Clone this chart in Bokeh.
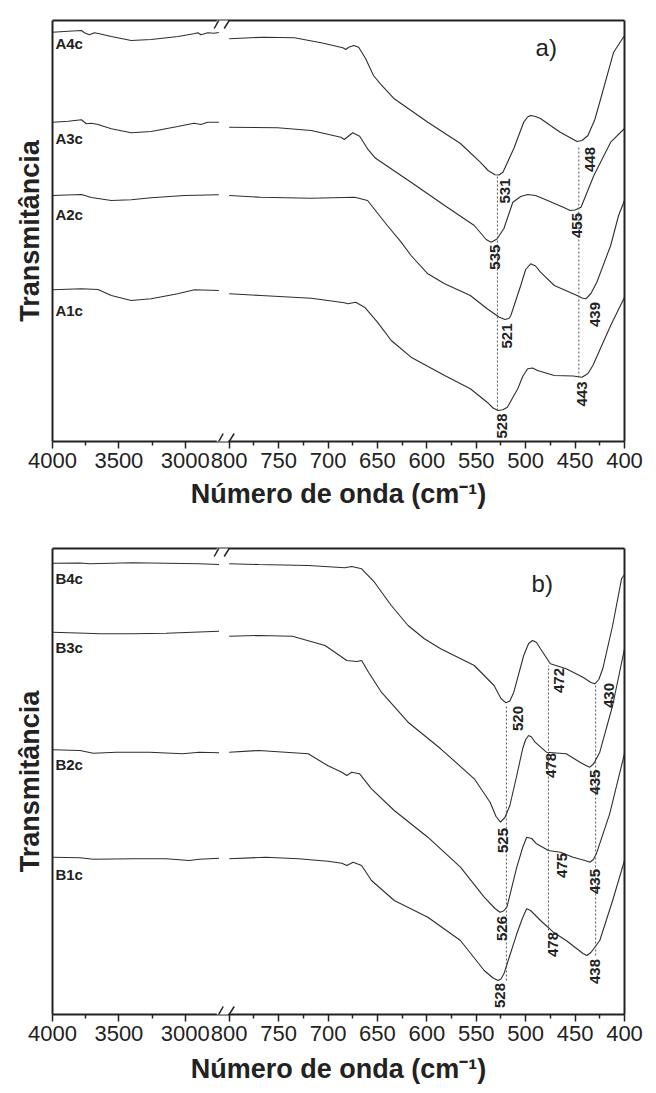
import numpy as np
from bokeh.plotting import figure
from bokeh.models import (Range1d, FixedTicker, LinearAxis, PolyAnnotation, Arrow,
                          ColumnDataSource)
from bokeh.layouts import column
from bokeh.embed import file_html
from bokeh.resources import INLINE
from bokeh.core.properties import value

FONT = "Liberation Sans"
INK = "#222222"
CURVE = "#2e2e2e"

# ---------------- axis ticks (wavenumber, cm-1) ----------------
major_wn = [4000, 3500, 3000, 800, 750, 700, 650, 600, 550, 500, 450, 400]
minor_wn = [3750, 3250, 775, 725, 675, 625, 575, 525, 475, 425]

# ---------------- panel a) data (transmittance, arbitrary units) ----------------
A4c_hi_wn = [4000, 3882, 3782, 3760, 3722, 3685, 3647, 3557, 3407, 3257, 3055, 2935, 2905, 2882, 2830, 2785, 2747]
A4c_hi_T = [409.3, 410.3, 411, 408.7, 406.7, 408.7, 407.7, 405, 401, 402, 405, 407.7, 408.7, 406.7, 408.7, 408.3, 409]
A4c_lo_wn = [800, 765, 734, 707, 685, 682, 679, 674, 669, 662, 654, 647, 633, 599, 566, 546, 538, 531, 527, 523, 512, 502, 498, 495, 490, 485, 475, 465, 448, 443, 437, 430, 424, 411, 400]
A4c_lo_T = [402.7, 404.3, 403.7, 398.7, 393.7, 392, 394.3, 396, 394.3, 383, 366, 357.7, 342.7, 319.3, 298, 279.3, 271, 266.7, 266.5, 269.3, 293, 319.3, 324.5, 326, 325, 323, 316, 309.3, 300, 301, 306, 322, 343, 389.3, 406]

A3c_hi_wn = [4000, 3882, 3782, 3745, 3707, 3657, 3557, 3407, 3257, 3057, 2935, 2882, 2832, 2747]
A3c_hi_T = [319.3, 320.3, 321.7, 317.7, 318.3, 317, 312.7, 308.7, 310, 315, 318.3, 317, 319.3, 319.3]
A3c_lo_wn = [800, 751, 717, 687, 683.5, 675, 668, 660, 653, 650, 616, 582, 552, 540, 535, 529, 522, 513, 505, 498, 490, 482, 462, 455, 450, 444, 431, 414, 400]
A3c_lo_T = [314.3, 313.7, 311, 304.3, 302, 308.7, 305.3, 292.7, 284.3, 282, 259.3, 236, 216, 202, 199.3, 202.5, 213, 239.3, 245, 247, 246, 242.7, 234.3, 231, 231.5, 234.3, 266, 299.3, 313]

A2c_hi_wn = [4000, 3782, 3707, 3557, 3407, 3257, 3007, 2747]
A2c_hi_T = [246, 247, 244, 241, 241.7, 243.7, 246, 246.7]
A2c_lo_wn = [800, 768, 717, 673, 660, 640, 626, 616, 599, 582, 556, 539, 527, 521, 517, 515, 505, 500, 495, 490, 485, 471, 448, 443, 439, 434, 428, 414, 406, 400]
A2c_lo_T = [246, 244.3, 243.3, 244.3, 241, 216, 199.3, 186, 167.7, 157.7, 146, 132.7, 124.5, 122, 123, 126, 156, 172, 177.7, 175.5, 169.3, 156, 146, 143.5, 142.7, 148, 159.3, 196, 226, 241]

A1c_hi_wn = [4000, 3782, 3657, 3557, 3407, 3257, 3057, 2932, 2747]
A1c_hi_T = [151.7, 152.7, 152, 146, 141, 142.7, 147.7, 151.7, 151]
A1c_lo_wn = [800, 768, 717, 683.5, 680, 672, 663, 650, 636, 616, 582, 556, 539, 533, 528, 523, 518.5, 508, 503, 498, 493, 488, 471, 452, 443, 437, 432, 414, 400]
A1c_lo_T = [147.7, 146, 143.3, 138.7, 137.7, 139.3, 134.3, 119.3, 101, 84.3, 66, 52.7, 39.3, 33.5, 31, 31.8, 34.3, 52.7, 65, 72.7, 73.5, 71, 66, 65.5, 64.3, 68, 76, 116, 144.3]

a_names = ["A4c", "A3c", "A2c", "A1c"]
a_name_T = [398.5, 303, 227, 131.5]
a_dash_wn = [528.6, 446.2]
a_dash_lo = [31, 64]
a_dash_hi = [266, 296]
a_peak_txt = ["531", "448", "535", "455", "521", "439", "528", "443"]
a_peak_wn = [521.2, 435.4, 531.3, 448.5, 519.2, 430.3, 524.2, 443.0]
a_peak_T = [250.5, 282, 184.3, 216, 105.5, 127, 15.5, 47.5]

# ---------------- panel b) data ----------------
B4c_hi_wn = [4000, 3793, 3718, 3643, 3396, 3144, 2893, 2746]
B4c_hi_T = [451.3, 451.5, 450.7, 451, 451.7, 451.3, 450.7, 450]
B4c_lo_wn = [800, 770, 720, 683, 676, 666, 653, 636, 619, 602.5, 586, 552, 532, 525, 520, 516, 512, 502, 497, 493, 489, 485, 475, 459, 442, 434, 430, 426, 422, 412, 403, 400]
B4c_lo_T = [450.7, 450, 449, 446.7, 448, 445.7, 432.3, 409, 389, 375.7, 365.7, 349, 329, 316, 311.7, 313.5, 322.3, 359, 371, 374, 372, 365.7, 350.7, 345.7, 337.3, 332, 330.7, 335, 345.7, 389, 435.7, 440]

B3c_hi_wn = [4000, 3750, 3643, 3394, 3144, 2945, 2746]
B3c_hi_T = [382.3, 381.3, 380.7, 380.7, 381.3, 382.3, 383.3]
B3c_lo_wn = [800, 770, 736, 703, 681, 671, 666, 659, 646, 619, 586, 552, 536, 530, 525.5, 521, 516, 509, 503, 500, 497, 494, 490.5, 479, 459, 445, 439, 435, 431, 425, 412, 400]
B3c_lo_T = [378.3, 379, 378.3, 369, 354, 353, 354, 342.3, 322.3, 292.3, 265.7, 235.7, 212.3, 198, 192.3, 197, 209, 239, 266, 275, 279, 277.5, 272.3, 262.3, 260.7, 252.3, 249, 247.3, 251, 262.3, 309, 365.7]

B2c_hi_wn = [4000, 3793, 3693, 3518, 3269, 3020, 2895, 2746]
B2c_hi_T = [264.7, 264, 261.3, 262.3, 262.3, 260.7, 262.3, 261.7]
B2c_lo_wn = [800, 770, 720, 700, 686, 681, 676, 668, 656, 633, 599, 566, 542, 531, 526, 522.5, 519, 509, 503, 499, 494, 489, 477, 465, 452, 440, 435, 431.5, 428.5, 415, 400]
B2c_lo_T = [262.3, 264, 260.7, 248.7, 242.3, 239, 242.3, 240.7, 225.7, 204, 177.3, 147.3, 117.3, 106, 102.3, 103.5, 107.3, 147.3, 167, 177.3, 176, 170.7, 164, 162.3, 157.3, 154, 152.3, 155, 160.7, 200.7, 261]

B1c_hi_wn = [4000, 3793, 3693, 3394, 3144, 2970, 2895, 2746]
B1c_hi_T = [157.3, 156.7, 155.3, 155.7, 155.7, 154, 155.3, 156.3]
B1c_lo_wn = [800, 763, 730, 700, 686, 681, 674.5, 666, 656, 633, 599, 566, 542, 533, 528, 525, 522, 509, 503, 499, 495, 485, 472, 459, 442, 438, 434, 425, 412, 400]
B1c_lo_T = [155.7, 157.3, 155.7, 153.3, 151.3, 149, 152.3, 149, 134, 114, 97.3, 74, 44, 36.5, 34, 35.5, 40.7, 80.7, 97, 105.7, 104, 94, 82.3, 74, 61, 59, 62, 74, 114, 154]

b_names = ["B4c", "B3c", "B2c", "B1c"]
b_name_T = [436.5, 367.3, 250.5, 140]
b_dash_wn = [519.5, 477, 429.2]
b_dash_lo = [34, 84, 59]
b_dash_hi = [310, 349, 329]
b_peak_txt = ["520", "472", "430", "478", "435", "525", "475", "435", "526", "478", "438", "528"]
b_peak_wn = [507.8, 466.2, 415.5, 474.7, 430.2, 523.0, 463.7, 430.2, 523.9, 472.0, 430.2, 525.6]
b_peak_T = [296, 334, 319, 249, 232.3, 174, 149, 133, 86, 70, 43, 19]


# broken x axis: 4000-2750 compressed, 800-400 expanded
def u(w):
    w = np.asarray(w, dtype=float)
    return np.where(w > 1500, (4000 - w) * 0.133, 177 + (800 - w) * 0.99)


tick_pos = [float(x) for x in u(major_wn)]
minor_pos = [float(x) for x in u(minor_wn)]
overrides = dict(zip(tick_pos, [str(w) for w in major_wn]))


def bare_axis():
    return LinearAxis(ticker=FixedTicker(ticks=[]), axis_line_width=2, axis_line_color=INK,
                      major_tick_line_color=None, minor_tick_line_color=None,
                      major_label_text_font_size="0px")


def make_panel(curves, names, name_T, dwn, dlo, dhi, ptxt, pwn, pT, letter, letter_wn, letter_T,
               height, top, bottom, left, right, ymax, xlab_standoff):
    p = figure(width=656, height=height, x_range=Range1d(0, 573), y_range=Range1d(0, ymax),
               output_backend="svg", toolbar_location=None,
               min_border_top=top, min_border_bottom=bottom,
               min_border_left=left, min_border_right=right)
    p.grid.visible = False
    p.outline_line_color = None
    p.background_fill_color = "white"
    p.border_fill_color = "white"

    for wn, T in curves:
        p.line(u(wn), T, line_color=CURVE, line_width=1.1)

    p.segment(x0=u(dwn), y0=dlo, x1=u(dwn), y1=dhi, line_color="#555555",
              line_width=1, line_dash="2 2")

    src = ColumnDataSource(dict(x=u(pwn), y=pT, t=ptxt))
    p.text(x="x", y="y", text="t", source=src, angle=np.pi / 2, text_align="center",
           text_baseline="middle", text_font=value(FONT), text_font_style="bold",
           text_font_size="15px", text_color=INK)

    nsrc = ColumnDataSource(dict(x=u([3978] * len(names)), y=name_T, t=names))
    p.text(x="x", y="y", text="t", source=nsrc, text_align="left", text_baseline="middle",
           text_font=value(FONT), text_font_style="bold", text_font_size="15px", text_color=INK)

    lsrc = ColumnDataSource(dict(x=u([letter_wn]), y=[letter_T], t=[letter]))
    p.text(x="x", y="y", text="t", source=lsrc, text_align="left", text_baseline="middle",
           text_font=value(FONT), text_font_size="24px", text_color=INK)

    ax = p.xaxis[0]
    ax.ticker = FixedTicker(ticks=tick_pos, minor_ticks=minor_pos)
    ax.major_label_overrides = overrides
    ax.major_label_text_font = FONT
    ax.major_label_text_font_size = "22px"
    ax.major_label_text_color = INK
    ax.major_label_standoff = 4
    ax.axis_line_width = 2
    ax.axis_line_color = INK
    ax.major_tick_in = 0
    ax.major_tick_out = 7
    ax.minor_tick_in = 0
    ax.minor_tick_out = 4
    ax.major_tick_line_color = INK
    ax.minor_tick_line_color = INK
    ax.major_tick_line_width = 1.5
    ax.minor_tick_line_width = 1.5
    ax.axis_label = "Número de onda (cm⁻¹)"
    ax.axis_label_text_font = FONT
    ax.axis_label_text_font_style = "bold"
    ax.axis_label_text_font_size = "27px"
    ax.axis_label_text_color = INK
    ax.axis_label_standoff = xlab_standoff

    ay = p.yaxis[0]
    ay.ticker = FixedTicker(ticks=[])
    ay.major_tick_line_color = None
    ay.minor_tick_line_color = None
    ay.major_label_text_font_size = "0px"
    ay.axis_line_width = 2
    ay.axis_line_color = INK
    ay.axis_label = "Transmitância"
    ay.axis_label_text_font = FONT
    ay.axis_label_text_font_style = "bold"
    ay.axis_label_text_font_size = "27px"
    ay.axis_label_text_color = INK
    ay.axis_label_standoff = 8

    p.add_layout(bare_axis(), "above")
    p.add_layout(bare_axis(), "right")

    # axis break on bottom and top
    for yc in (0, ymax):
        p.add_layout(PolyAnnotation(xs=[164.5, 176, 176, 164.5], ys=[yc - 3.5, yc - 3.5, yc + 3.5, yc + 3.5],
                                    fill_color="white", fill_alpha=1, line_color=None))
        p.add_layout(Arrow(end=None, x_start=162, y_start=yc - 8, x_end=171, y_end=yc + 8,
                           line_color=INK, line_width=1.5))
        p.add_layout(Arrow(end=None, x_start=172, y_start=yc - 8, x_end=182, y_end=yc + 8,
                           line_color=INK, line_width=1.5))
    return p


pa = make_panel([(A4c_hi_wn, A4c_hi_T), (A4c_lo_wn, A4c_lo_T),
                 (A3c_hi_wn, A3c_hi_T), (A3c_lo_wn, A3c_lo_T),
                 (A2c_hi_wn, A2c_hi_T), (A2c_lo_wn, A2c_lo_T),
                 (A1c_hi_wn, A1c_hi_T), (A1c_lo_wn, A1c_lo_T)],
                a_names, a_name_T, a_dash_wn, a_dash_lo, a_dash_hi,
                a_peak_txt, a_peak_wn, a_peak_T, "a)", 490, 394,
                height=530, top=20, bottom=89, left=51, right=32, ymax=421, xlab_standoff=8)

pb = make_panel([(B4c_hi_wn, B4c_hi_T), (B4c_lo_wn, B4c_lo_T),
                 (B3c_hi_wn, B3c_hi_T), (B3c_lo_wn, B3c_lo_T),
                 (B2c_hi_wn, B2c_hi_T), (B2c_lo_wn, B2c_lo_T),
                 (B1c_hi_wn, B1c_hi_T), (B1c_lo_wn, B1c_lo_T)],
                b_names, b_name_T, b_dash_wn, b_dash_lo, b_dash_hi,
                b_peak_txt, b_peak_wn, b_peak_T, "b)", 494, 431.5,
                height=563, top=18, bottom=79, left=52, right=28, ymax=466, xlab_standoff=10)

layout = column(pa, pb)
open("out.html", "w").write(file_html(layout, INLINE))
